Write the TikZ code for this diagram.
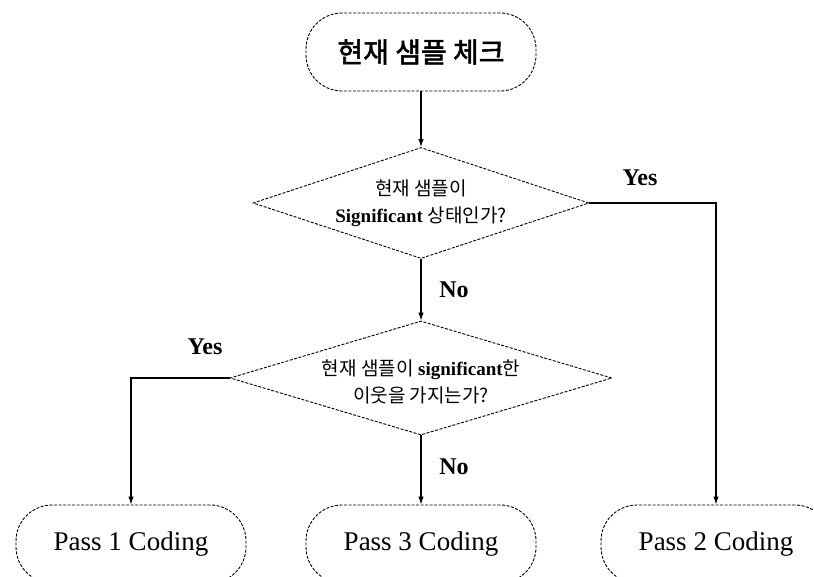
\documentclass[tikz,border=0pt]{standalone}
\usepackage{fontspec}
\setmainfont{Liberation Serif}
\newfontfamily\kr{Noto Sans CJK KR}
\newfontfamily\krb[FakeBold=2]{Noto Sans CJK KR}
\usepackage{tikz}
\usetikzlibrary{shapes, arrows.meta, positioning, calc}

\begin{document}
\begin{tikzpicture}[x=1pt, y=-1pt, >={Latex[length=8pt, width=5.5pt]},
    term/.style={draw, line width=0.9pt, dash pattern=on 3pt off 1.5pt, rounded corners=36pt,
      minimum width=230pt, minimum height=78pt, inner sep=0pt},
    decision/.style={draw, diamond, line width=0.9pt, dash pattern=on 3pt off 1.5pt, inner sep=0pt},
    dtext/.style={align=center, font=\fontsize{19}{27}\selectfont},
    flow/.style={->, line width=1.1pt},
    lbl/.style={font=\fontsize{24}{28}\selectfont\bfseries}]
    % Frame
    \clip (0,0) rectangle (814,576);
    \fill[white] (0,0) rectangle (814,576);

    % Nodes
    \node[term, font=\fontsize{28}{32}\selectfont\krb] (top) at (421,52) {현재 샘플 체크};
    \node[decision, minimum width=336pt, minimum height=111pt,
      label={[dtext]center:{\kr 현재 샘플이}\\\textbf{Significant} {\kr 상태인가?}}] (d1) at (421,203) {};
    \node[decision, minimum width=382pt, minimum height=114pt,
      label={[dtext, yshift=-4pt]center:{\kr 현재 샘플이} \textbf{significant}{\kr 한}\\{\kr 이웃을 가지는가?}}] (d2) at (421,378) {};
    \node[term, font=\fontsize{27}{30}\selectfont] (p1) at (131,544) {Pass 1 Coding};
    \node[term, font=\fontsize{27}{30}\selectfont] (p3) at (421,544) {Pass 3 Coding};
    \node[term, font=\fontsize{27}{30}\selectfont] (p2) at (716,544) {Pass 2 Coding};

    % Connectors
    \draw[flow] (top) -- (d1);
    \draw[flow] (d1) -- (d2);
    \draw[flow] (d2) -- (p3);
    \draw[flow] (d1.east) -| (p2);
    \draw[flow] (d2.west) -| (p1);

    % Labels
    \node[lbl] (y1) at (640,178) {Yes};
    \node[lbl] (n1) at (454,290) {No};
    \node[lbl] (y2) at (205,347) {Yes};
    \node[lbl] (n2) at (454,467) {No};
  \end{tikzpicture}
\end{document}
